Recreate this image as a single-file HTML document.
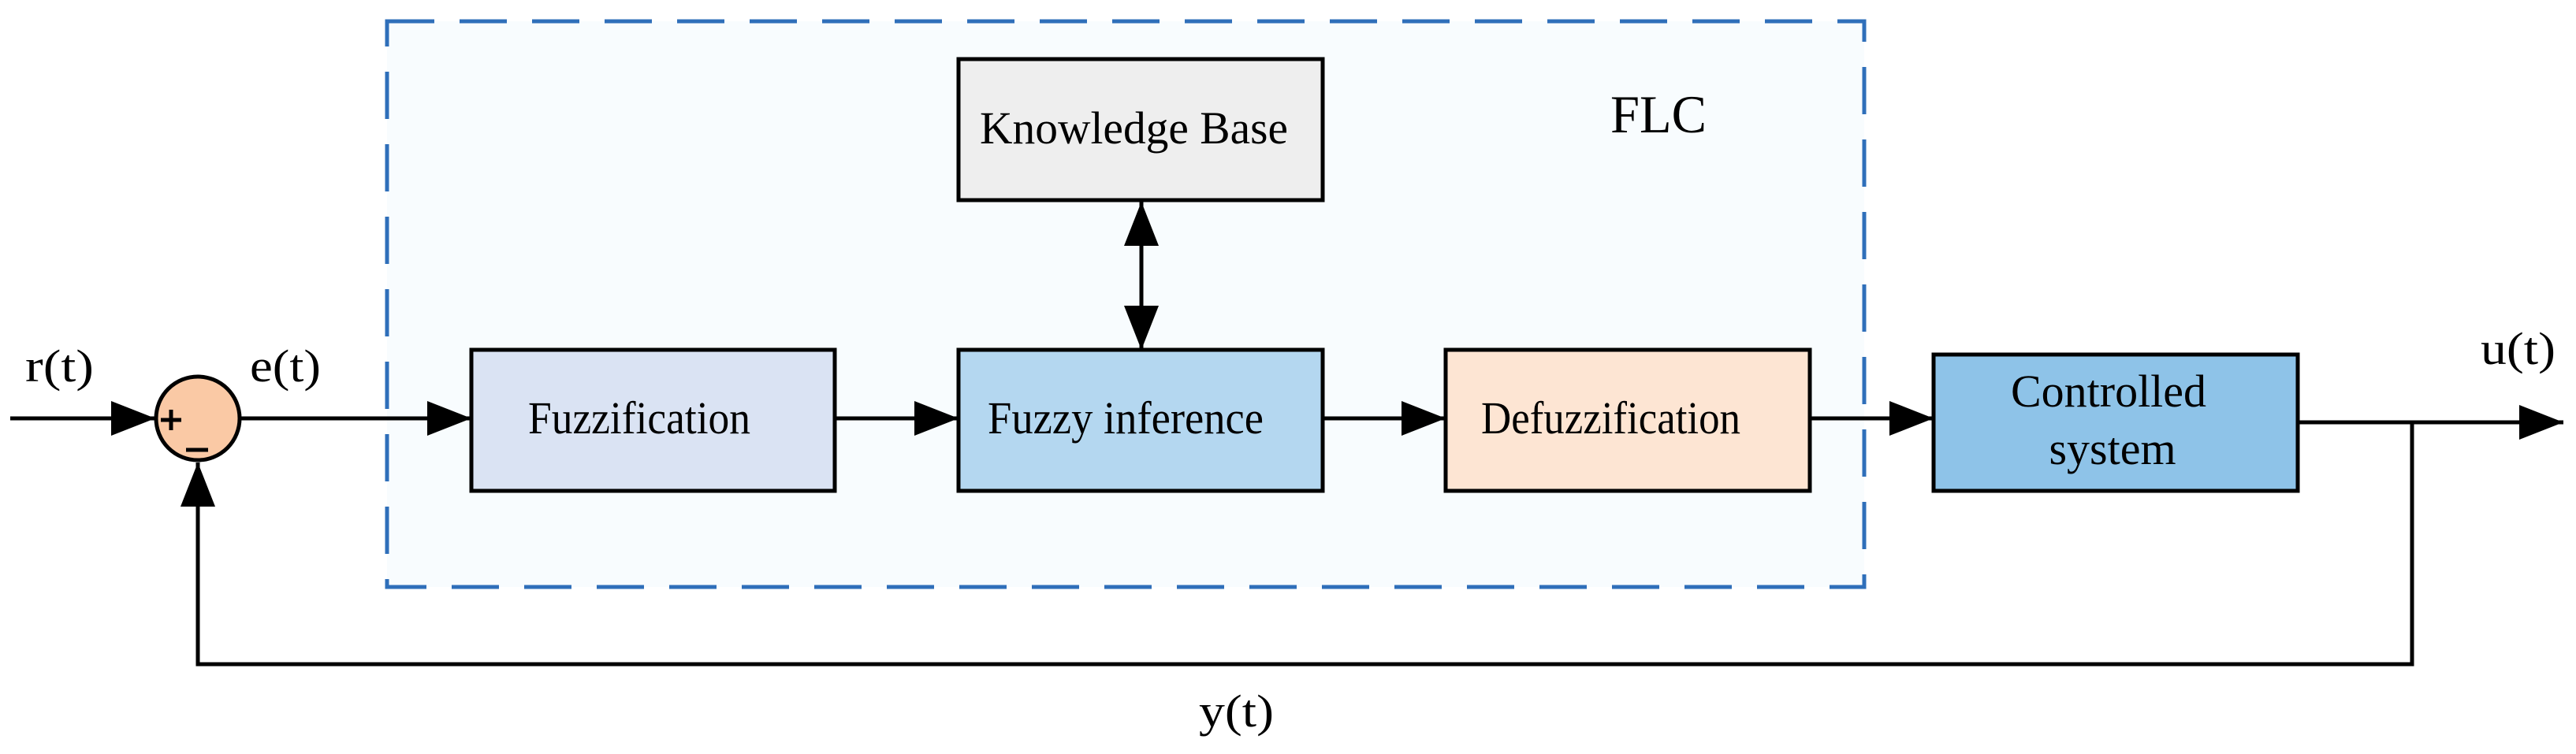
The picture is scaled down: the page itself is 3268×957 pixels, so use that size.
<!DOCTYPE html>
<html><head><meta charset="utf-8"><style>html,body{margin:0;padding:0;background:#fff}svg{display:block}</style></head>
<body>
<svg width="3268" height="957" viewBox="0 0 3268 957" xmlns="http://www.w3.org/2000/svg" font-family="Liberation Serif, serif" fill="#000">
<defs>
<marker id="a" markerWidth="56" markerHeight="44" refX="56" refY="22" orient="auto" markerUnits="userSpaceOnUse"><path d="M0,0 L56,22 L0,44 z" fill="#000"/></marker>
<marker id="b" markerWidth="56" markerHeight="44" refX="0" refY="22" orient="auto" markerUnits="userSpaceOnUse"><path d="M56,0 L0,22 L56,44 z" fill="#000"/></marker>
</defs>
<rect x="491" y="27" width="1874" height="718" fill="#f8fcfe" stroke="#2f6fba" stroke-width="5" stroke-dasharray="60,32"/>
<g stroke="#000" stroke-width="5" fill="none">
<line x1="13" y1="531" x2="197" y2="531" marker-end="url(#a)"/>
<line x1="305" y1="531" x2="598" y2="531" marker-end="url(#a)"/>
<line x1="1059" y1="531" x2="1216" y2="531" marker-end="url(#a)"/>
<line x1="1678" y1="531" x2="1834" y2="531" marker-end="url(#a)"/>
<line x1="2296" y1="531" x2="2453" y2="531" marker-end="url(#a)"/>
<line x1="1448" y1="256" x2="1448" y2="444" marker-start="url(#b)" marker-end="url(#a)"/>
<line x1="2915" y1="536" x2="3252" y2="536" marker-end="url(#a)"/>
<polyline points="3060,536 3060,843 251,843 251,587" marker-end="url(#a)"/>
</g>
<g stroke="#000" stroke-width="5">
<rect x="598" y="444" width="461" height="179" fill="#dae3f3"/>
<rect x="1216" y="444" width="462" height="179" fill="#b4d7f0"/>
<rect x="1834" y="444" width="462" height="179" fill="#fde5d3"/>
<rect x="1216" y="75" width="462" height="179" fill="#eeeeee"/>
<rect x="2453" y="450" width="462" height="173" fill="#8ec3e8"/>
<ellipse cx="251" cy="531" rx="53" ry="53" fill="#fac9a5"/>
</g>
<g stroke="#000" stroke-width="5">
<line x1="204" y1="533" x2="230" y2="533"/>
<line x1="217" y1="520" x2="217" y2="546"/>
<line x1="236" y1="571" x2="264" y2="571"/>
</g>
<text x="32" y="484" font-size="58" textLength="87" lengthAdjust="spacingAndGlyphs">r(t)</text>
<text x="317" y="484" font-size="58" textLength="90" lengthAdjust="spacingAndGlyphs">e(t)</text>
<text x="3147" y="462" font-size="58" textLength="95" lengthAdjust="spacingAndGlyphs">u(t)</text>
<text x="1521" y="922" font-size="58" textLength="95" lengthAdjust="spacingAndGlyphs">y(t)</text>
<text x="2043" y="168" font-size="68" textLength="122" lengthAdjust="spacingAndGlyphs">FLC</text>
<text x="1243" y="182" font-size="58" textLength="391" lengthAdjust="spacingAndGlyphs">Knowledge Base</text>
<text x="670" y="550" font-size="58" textLength="282" lengthAdjust="spacingAndGlyphs">Fuzzification</text>
<text x="1253" y="550" font-size="58" textLength="350" lengthAdjust="spacingAndGlyphs">Fuzzy inference</text>
<text x="1879" y="550" font-size="58" textLength="329" lengthAdjust="spacingAndGlyphs">Defuzzification</text>
<text x="2675" y="516" font-size="58" text-anchor="middle">Controlled</text>
<text x="2680" y="589" font-size="58" text-anchor="middle">system</text>
</svg>
</body></html>
